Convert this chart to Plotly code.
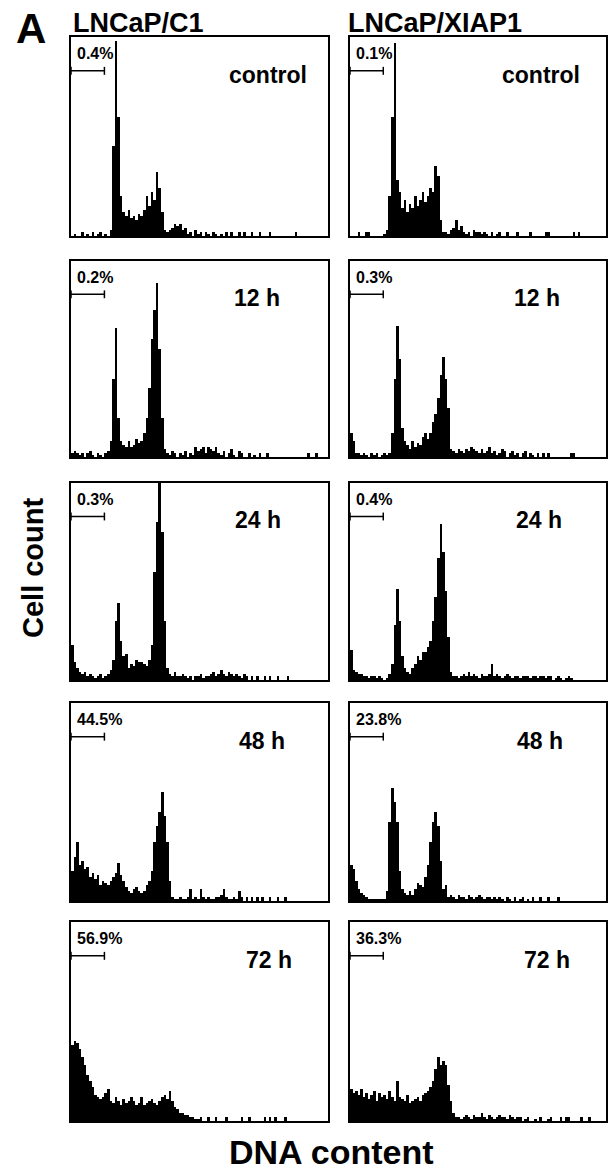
import numpy as np
import plotly.graph_objects as go

# ---------------- data (percent of panel height, 100 channels) ----------------
cell_lines = ["LNCaP/C1", "LNCaP/XIAP1"]
conditions = ["control", "12 h", "24 h", "48 h", "72 h"]
subg1_c1 = ["0.4%", "0.2%", "0.3%", "44.5%", "56.9%"]
subg1_xiap = ["0.1%", "0.3%", "0.4%", "23.8%", "36.3%"]
gate_end = 13  # sub-G1 gate upper channel

c1_ctrl = [0,1,0,0,2,0,1,0,2,0,1,2,0,1,0,
           3,45,98,60,20,
           12,10,13,9,10,8,11,10,
           13,20,15,22,18,32,24,12,3,
           2,3,4,6,5,6,3,4,
           1,2,0,3,1,2,0,2,1,0,2,1,0,1,0,2,
           0,2,0,0,2,0,2,0,0,2,0,0,2,0,0,0,2,0,0,0,0,0,0,0,0,0,2,
           0,0,0,0,0,0,0,0,0,0,0,0]
c1_12 = [2,3,2,1,2,0,2,3,1,0,2,1,0,2,3,
         8,40,66,20,8,
         6,5,8,5,6,9,7,8,
         12,20,35,60,75,89,55,20,4,
         2,1,3,2,0,2,1,3,0,2,1,
         5,3,4,5,2,5,4,3,5,2,
         1,3,0,2,4,1,0,3,2,0,0,2,0,1,0,2,0,0,2,0,0,0,0,
         0,0,0,0,0,0,0,0,0,0,0,2,0,0,2,0,0,0,0]
c1_24 = [18,9,6,4,3,4,2,3,2,1,2,3,1,2,3,5,
         10,30,39,20,12,
         13,6,8,7,10,9,
         9,8,7,10,
         18,55,80,100,75,30,6,
         3,2,4,2,2,3,2,1,2,0,2,2,3,1,2,2,3,4,2,3,5,3,2,4,3,2,3,2,1,3,
         2,0,2,0,2,0,0,2,0,2,0,0,2,0,0,0,2,0,0,0,0,0,0,0,0,0,0,0,0,0,0,0]
c1_48 = [15,22,30,18,20,16,17,12,14,11,13,
         8,10,9,8,10,12,
         14,19,13,10,
         7,5,4,6,7,5,4,5,8,
         10,15,30,38,45,55,43,30,10,2,
         1,1,2,1,1,2,6,1,2,1,6,2,1,2,1,1,2,2,3,6,2,1,1,2,1,5,2,0,2,0,
         2,0,2,0,2,0,0,2,0,0,2,0,0,2,0,0,0,0,0,0,0,0,0,0,0,0,0,0,0,0]
c1_72 = [38,40,39,36,32,28,23,20,17,13,12,11,12,14,16,10,9,12,10,8,
         11,9,10,12,10,8,9,12,8,9,10,11,9,8,10,12,13,11,15,10,
         7,6,4,4,3,3,2,2,
         1,1,2,0,0,2,0,0,2,0,0,0,2,0,0,0,0,0,2,0,0,2,0,0,0,0,0,2,0,2,0,2,0,0,0,2,
         0,0,0,0,0,0,0,0,0,0,0,0,0,0,0,0]

x_ctrl = [0,0,0,2,0,0,2,2,0,0,0,0,0,1,3,
          20,60,97,28,22,14,18,12,16,14,20,15,18,22,17,20,24,22,35,30,8,2,
          2,1,3,4,8,3,5,2,1,
          2,0,3,2,2,1,2,1,0,2,0,1,2,0,0,2,0,0,0,2,0,0,0,0,2,
          0,0,0,0,0,2,2,0,0,0,0,0,0,0,0,0,2,0,2,0,0,0,0,0,0,0,0,0,0]
x_12 = [12,8,2,2,1,2,1,0,2,1,2,0,1,2,1,2,
        12,40,67,50,15,8,
        6,4,8,5,7,6,10,12,9,
        12,18,22,30,42,51,40,25,4,
        3,2,4,3,2,4,3,5,4,3,2,4,2,3,5,2,3,1,2,4,3,0,2,3,1,2,0,2,3,0,2,1,0,2,0,2,0,2,
        0,0,0,0,0,0,0,0,2,2,0,0,0,0,0,0,0,0,0,0,0,0]
x_24 = [15,5,4,3,3,2,2,1,2,2,1,2,1,0,1,3,
        8,28,46,30,12,6,
        4,3,6,8,12,10,14,
        14,17,20,30,42,62,79,65,45,22,4,
        2,2,1,2,3,2,4,2,3,2,1,3,2,2,3,8,2,3,2,1,2,3,2,1,2,2,1,2,2,2,
        1,2,2,1,2,2,1,2,2,0,1,2,1,0,1,2,1,0,0,0,0,0,0,0,0,0,0,0,0,0]
x_48 = [18,16,10,6,4,3,2,
        1,1,1,1,1,1,1,
        5,40,57,50,40,15,6,
        4,3,5,3,6,9,8,7,
        12,18,30,40,45,38,20,6,
        8,2,3,2,1,3,2,2,1,3,2,1,2,3,2,1,2,2,1,2,1,2,1,0,2,1,0,2,0,1,
        2,0,1,0,2,0,0,2,0,0,2,0,0,0,2,0,0,0,0,0,0,0,0,0,0,0,0,0,0,0,0,0,0]
x_72 = [16,14,15,13,16,12,14,11,13,15,10,14,12,13,11,15,12,10,20,12,11,10,13,9,10,11,12,10,13,14,15,
        17,20,26,32,28,30,28,18,10,4,2,
        2,1,2,3,2,1,3,2,2,4,2,1,3,2,1,2,3,2,2,1,3,2,1,2,2,0,1,2,0,0,1,0,2,0,0,1,2,0,0,0,
        2,0,2,2,0,0,0,0,2,0,0,2,0,0,0,0,0,0]

left_series = [c1_ctrl, c1_12, c1_24, c1_48, c1_72]
right_series = [x_ctrl, x_12, x_24, x_48, x_72]

# ---------------- layout geometry (pixels) ----------------
W, H = 608, 1175
col_px = [(71, 328), (350, 606)]
row_px = [(37, 236), (261, 457), (483, 680), (703, 901), (922, 1121)]
label_x_left = [0.766, 0.724, 0.727, 0.743, 0.77]
label_x_right = [0.746, 0.732, 0.74, 0.743, 0.77]

FONT = "Liberation Sans, Arial, Helvetica, sans-serif"

def fix(v):
    v = list(v)[:100]
    return v + [0] * (100 - len(v))

fig = go.Figure()
layout = dict(width=W, height=H, margin=dict(l=0, r=0, t=0, b=0),
              paper_bgcolor="white", plot_bgcolor="white", showlegend=False,
              bargap=0, annotations=[], shapes=[])

chan = np.arange(100) + 0.5
n = 0
for r in range(5):
    for c in range(2):
        n += 1
        sfx = "" if n == 1 else str(n)
        vals = fix(left_series[r] if c == 0 else right_series[r])
        fig.add_trace(go.Bar(x=chan, y=vals, width=1.0, xaxis="x" + sfx, yaxis="y" + sfx,
                             marker=dict(color="black", line=dict(width=0)),
                             hoverinfo="skip"))
        x0, x1 = col_px[c]
        y0, y1 = row_px[r]
        ax = dict(showgrid=False, zeroline=False, showticklabels=False, ticks="",
                  showline=True, linecolor="black", linewidth=1.5, mirror=True,
                  fixedrange=True)
        layout["xaxis" + sfx] = dict(ax, domain=[x0 / W, x1 / W], range=[0, 100],
                                     anchor="y" + sfx)
        layout["yaxis" + sfx] = dict(ax, domain=[1 - y1 / H, 1 - y0 / H], range=[0, 100],
                                     anchor="x" + sfx)
        xd, yd = "x" + sfx + " domain", "y" + sfx + " domain"
        pct = subg1_c1[r] if c == 0 else subg1_xiap[r]
        layout["annotations"].append(dict(
            text="<b>" + pct + "</b>", xref=xd, yref=yd, x=0.015, y=0.915,
            xanchor="left", yanchor="middle", showarrow=False,
            font=dict(family=FONT, size=16, color="black")))
        lx = label_x_left[r] if c == 0 else label_x_right[r]
        layout["annotations"].append(dict(
            text="<b>" + conditions[r] + "</b>", xref=xd, yref=yd, x=lx, y=0.81,
            xanchor="center", yanchor="middle", showarrow=False,
            font=dict(family=FONT, size=23, color="black")))
        # gate bracket
        xr = "x" + sfx
        yb = 0.83
        line = dict(color="black", width=1.5)
        layout["shapes"].append(dict(type="line", xref=xr, yref=yd, x0=0, x1=gate_end,
                                     y0=yb, y1=yb, line=line))
        for gx in (0, gate_end):
            layout["shapes"].append(dict(type="line", xref=xr, yref=yd, x0=gx, x1=gx,
                                         y0=yb - 0.02, y1=yb + 0.02, line=line))

def ann(text, px, py, size, xanchor="center", angle=0):
    layout["annotations"].append(dict(
        text="<b>" + text + "</b>", xref="paper", yref="paper", x=px / W, y=1 - py / H,
        xanchor=xanchor, yanchor="middle", showarrow=False, textangle=angle,
        font=dict(family=FONT, size=size, color="black")))

ann("A", 31, 29, 42)
ann(cell_lines[0], 71, 23, 27, xanchor="left")
ann(cell_lines[1], 346, 23, 27, xanchor="left")
ann("Cell count", 33, 568, 29, angle=-90)
ann("DNA content", 331, 1152, 34)

fig.update_layout(**layout)
fig.write_html("out.html", config={"displayModeBar": False},
               post_script="document.body.style.margin='0';document.body.style.overflow='hidden';")
